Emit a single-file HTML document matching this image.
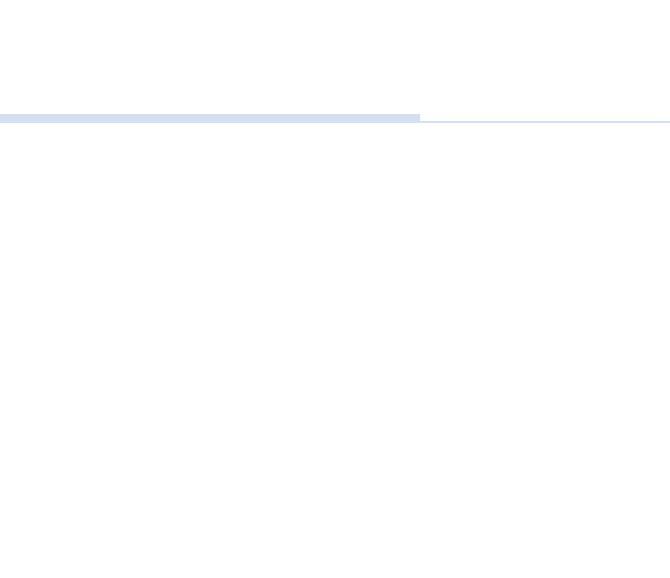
<!DOCTYPE html>
<html>
<head>
<meta charset="utf-8">
<style>
  html, body { margin: 0; padding: 0; background: #ffffff; }
  body { width: 670px; height: 578px; position: relative; overflow: hidden; font-family: "Liberation Sans", sans-serif; }
  svg { position: absolute; left: 0; top: 0; }
</style>
</head>
<body>
<svg id="chart" width="670" height="578"></svg>
<script>
const categories = ["progress"];
const values = [62.7];
const maxValues = [100];

const svg = document.getElementById('chart');
const NS = 'http://www.w3.org/2000/svg';
const x0 = 0, x1 = 670;
function xScale(v, max) { return x0 + (v / max) * (x1 - x0); }

const track = document.createElementNS(NS, 'rect');


track.setAttribute('x', x0);
track.setAttribute('y', 121);
track.setAttribute('width', x1 - x0);
track.setAttribute('height', 2);
track.setAttribute('fill', '#d4e0f2');
svg.appendChild(track);

categories.forEach((c, i) => {
  const bar = document.createElementNS(NS, 'rect');
  
  
  bar.setAttribute('x', x0);
  bar.setAttribute('y', 114);
  bar.setAttribute('width', xScale(values[i], maxValues[i]) - x0);
  bar.setAttribute('height', 9);
  bar.setAttribute('fill', '#d4e0f2');
  svg.appendChild(bar);
});
</script>
</body>
</html>
